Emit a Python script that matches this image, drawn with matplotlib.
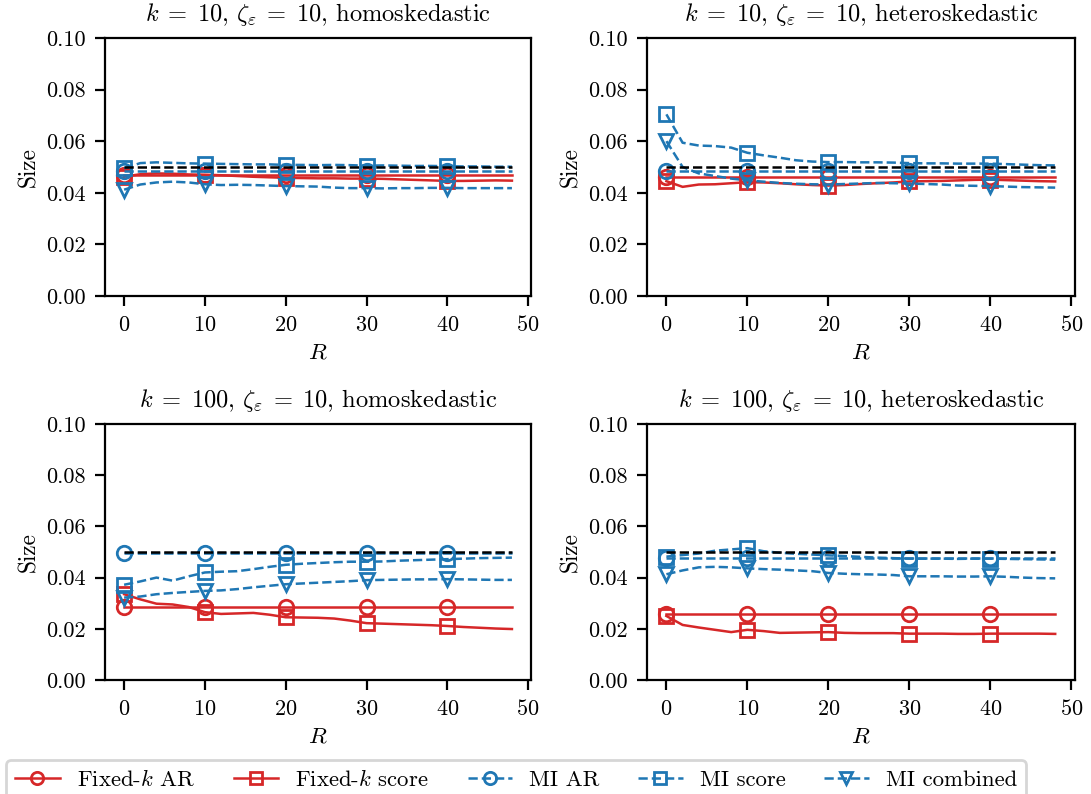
import numpy as np
import matplotlib
matplotlib.use('Agg')
import matplotlib.pyplot as plt

plt.rcParams['font.family'] = 'serif'
plt.rcParams['font.serif'] = ['cmr10']
plt.rcParams['mathtext.fontset'] = 'cm'
plt.rcParams['axes.unicode_minus'] = False
plt.rcParams['axes.formatter.use_mathtext'] = True
plt.rcParams['font.size'] = 8.0

# replications R (0, 2, ..., 48)
R = list(range(0, 50, 2))
nominal = 0.05

titles = [
    r'$k \;=\; 10$, $\zeta_\varepsilon \;=\; 10$, homoskedastic',
    r'$k \;=\; 10$, $\zeta_\varepsilon \;=\; 10$, heteroskedastic',
    r'$k \;=\; 100$, $\zeta_\varepsilon \;=\; 10$, homoskedastic',
    r'$k \;=\; 100$, $\zeta_\varepsilon \;=\; 10$, heteroskedastic',
]

# k = 10, homoskedastic
p1_fk_ar = [0.0467] * 25
p1_fk_score = [0.0462, 0.0472, 0.0475, 0.0474, 0.0471, 0.0470, 0.0468, 0.0465, 0.0462, 0.0460,
               0.0458, 0.0457, 0.0456, 0.0456, 0.0455, 0.0455, 0.0454, 0.0452, 0.0450, 0.0448,
               0.0446, 0.0446, 0.0447, 0.0448, 0.0447]
p1_mi_ar = [0.0483] * 25
p1_mi_score = [0.0495, 0.0515, 0.0518, 0.0516, 0.0514, 0.0513, 0.0512, 0.0511, 0.0510, 0.0510,
               0.0508, 0.0508, 0.0507, 0.0508, 0.0507, 0.0505, 0.0506, 0.0505, 0.0504, 0.0504,
               0.0503, 0.0502, 0.0502, 0.0501, 0.0501]
p1_mi_comb = [0.0412, 0.0432, 0.0440, 0.0443, 0.0440, 0.0433, 0.0430, 0.0431, 0.0430, 0.0428,
              0.0426, 0.0425, 0.0424, 0.0420, 0.0418, 0.0418, 0.0417, 0.0418, 0.0418, 0.0419,
              0.0419, 0.0418, 0.0418, 0.0418, 0.0418]

# k = 10, heteroskedastic
p2_fk_ar = [0.0462] * 25
p2_fk_score = [0.0445, 0.0423, 0.0432, 0.0433, 0.0437, 0.0441, 0.0440, 0.0437, 0.0433, 0.0430,
               0.0428, 0.0430, 0.0434, 0.0437, 0.0440, 0.0444, 0.0445, 0.0446, 0.0448, 0.0450,
               0.0451, 0.0449, 0.0447, 0.0445, 0.0444]
p2_mi_ar = [0.0484] * 25
p2_mi_score = [0.0704, 0.0594, 0.0583, 0.0581, 0.0575, 0.0555, 0.0545, 0.0536, 0.0526, 0.0521,
               0.0519, 0.0519, 0.0518, 0.0518, 0.0517, 0.0515, 0.0514, 0.0514, 0.0513, 0.0513,
               0.0513, 0.0511, 0.0509, 0.0507, 0.0506]
p2_mi_comb = [0.0600, 0.0500, 0.0475, 0.0465, 0.0455, 0.0448, 0.0443, 0.0438, 0.0435, 0.0433,
              0.0432, 0.0434, 0.0436, 0.0438, 0.0437, 0.0436, 0.0434, 0.0432, 0.0428, 0.0427,
              0.0426, 0.0424, 0.0422, 0.0421, 0.0420]

# k = 100, homoskedastic
p3_fk_ar = [0.0285] * 25
p3_fk_score = [0.0335, 0.0315, 0.0298, 0.0295, 0.0285, 0.0265, 0.0258, 0.0260, 0.0262, 0.0255,
               0.0245, 0.0244, 0.0243, 0.0240, 0.0232, 0.0222, 0.0220, 0.0218, 0.0216, 0.0214,
               0.0211, 0.0207, 0.0204, 0.0201, 0.0199]
p3_mi_ar = [0.0495] * 25
p3_mi_score = [0.0372, 0.0385, 0.0400, 0.0388, 0.0405, 0.0420, 0.0423, 0.0425, 0.0433, 0.0442,
               0.0450, 0.0454, 0.0457, 0.0460, 0.0462, 0.0462, 0.0463, 0.0466, 0.0468, 0.0470,
               0.0472, 0.0474, 0.0476, 0.0477, 0.0478]
p3_mi_comb = [0.0322, 0.0326, 0.0335, 0.0340, 0.0344, 0.0348, 0.0350, 0.0355, 0.0362, 0.0368,
              0.0374, 0.0377, 0.0380, 0.0383, 0.0386, 0.0390, 0.0391, 0.0392, 0.0393, 0.0393,
              0.0394, 0.0393, 0.0392, 0.0391, 0.0391]

# k = 100, heteroskedastic
p4_fk_ar = [0.0256] * 25
p4_fk_score = [0.0250, 0.0215, 0.0205, 0.0196, 0.0187, 0.0196, 0.0191, 0.0184, 0.0185, 0.0186,
               0.0187, 0.0184, 0.0183, 0.0183, 0.0183, 0.0181, 0.0181, 0.0181, 0.0180, 0.0180,
               0.0181, 0.0181, 0.0181, 0.0181, 0.0180]
p4_mi_ar = [0.0477] * 25
p4_mi_score = [0.0482, 0.0488, 0.0494, 0.0505, 0.0510, 0.0515, 0.0503, 0.0497, 0.0493, 0.0490,
               0.0487, 0.0484, 0.0481, 0.0478, 0.0476, 0.0474, 0.0474, 0.0474, 0.0473, 0.0474,
               0.0474, 0.0473, 0.0472, 0.0471, 0.0470]
p4_mi_comb = [0.0413, 0.0428, 0.0440, 0.0442, 0.0440, 0.0436, 0.0433, 0.0431, 0.0428, 0.0425,
              0.0418, 0.0415, 0.0413, 0.0412, 0.0410, 0.0405, 0.0405, 0.0405, 0.0404, 0.0404,
              0.0405, 0.0403, 0.0400, 0.0398, 0.0397]

panels = [
    (p1_fk_ar, p1_fk_score, p1_mi_ar, p1_mi_score, p1_mi_comb),
    (p2_fk_ar, p2_fk_score, p2_mi_ar, p2_mi_score, p2_mi_comb),
    (p3_fk_ar, p3_fk_score, p3_mi_ar, p3_mi_score, p3_mi_comb),
    (p4_fk_ar, p4_fk_score, p4_mi_ar, p4_mi_score, p4_mi_comb),
]

labels = [r'Fixed-$k$ AR', r'Fixed-$k$ score', 'MI AR', 'MI score', 'MI combined']
colors = ['#d62728', '#d62728', '#1f77b4', '#1f77b4', '#1f77b4']
styles = ['-', '-', '--', '--', '--']
markers = ['o', 's', 'o', 's', 'v']

fig = plt.figure(figsize=(10.91 / 2, 7.94 / 2), dpi=200)
positions = [
    [0.0960, 0.6272, 0.3910, 0.3250],
    [0.5930, 0.6272, 0.3920, 0.3250],
    [0.0960, 0.1436, 0.3910, 0.3224],
    [0.5930, 0.1436, 0.3920, 0.3224],
]

for pos, title, series in zip(positions, titles, panels):
    ax = fig.add_axes(pos)
    for vals, lab, c, ls, m in zip(series, labels, colors, styles, markers):
        ax.plot(R, vals, color=c, linestyle=ls, marker=m, markevery=5,
                fillstyle='none', markersize=5.2, markeredgewidth=1.0,
                linewidth=0.9, label=lab)
    ax.plot(R, [nominal] * len(R), color='black', linestyle='--', linewidth=0.9)
    ax.set_ylim(0, 0.1)
    ax.set_yticks([0.0, 0.02, 0.04, 0.06, 0.08, 0.10])
    ax.set_yticklabels(['0.00', '0.02', '0.04', '0.06', '0.08', '0.10'])
    ax.set_xticks([0, 10, 20, 30, 40, 50])
    ax.set_xlabel('$R$', fontsize=8.4, labelpad=2)
    ax.set_ylabel('Size', fontsize=8.4, labelpad=2)
    ax.set_title(title, fontsize=8.8)

handles, labs = ax.get_legend_handles_labels()
fig.legend(handles, labs, loc='upper left', bbox_to_anchor=(0.0055, 0.0428),
           borderaxespad=0, ncol=5, numpoints=1, fontsize=8.2, markerscale=0.85,
           handlelength=1.95, handletextpad=0.75, columnspacing=1.7)

plt.savefig('out.png', dpi=200)
